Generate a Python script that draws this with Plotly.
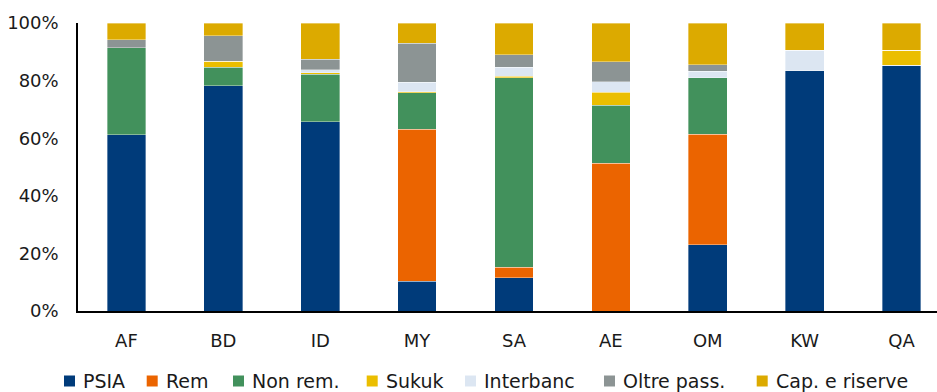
import plotly.graph_objects as go

categories = ["AF", "BD", "ID", "MY", "SA", "AE", "OM", "KW", "QA"]

psia       = [61.2, 78.2, 65.7, 10.4, 11.6,  0.0, 23.0, 83.4, 85.4]
rem        = [ 0.0,  0.0,  0.0, 52.7,  3.6, 51.3, 38.3,  0.0,  0.0]
non_rem    = [30.2,  6.4, 16.5, 12.7, 65.8, 20.2, 19.7,  0.0,  0.0]
sukuk      = [ 0.0,  2.2,  0.6,  0.4,  0.5,  4.5,  0.0,  0.0,  5.2]
interbanc  = [ 0.0,  0.0,  0.9,  3.2,  3.2,  3.6,  2.3,  7.2,  0.0]
oltre_pass = [ 2.8,  8.8,  3.7, 13.5,  4.2,  7.0,  2.2,  0.0,  0.0]
cap_ris    = [ 5.8,  4.4, 12.6,  7.1, 11.1, 13.4, 14.5,  9.4,  9.4]

series_names = ["PSIA", "Rem", "Non rem.", "Sukuk", "Interbanc", "Oltre pass.", "Cap. e riserve"]
series_values = [psia, rem, non_rem, sukuk, interbanc, oltre_pass, cap_ris]
series_colors = ["#003B7A", "#EB6400", "#42915C", "#EBBE00", "#DCE6F2", "#8C9494", "#DCAA00"]

y_tickvals = [0, 20, 40, 60, 80, 100]
y_ticktext = ["0%", "20%", "40%", "60%", "80%", "100%"]

FONT = "DejaVu Sans"
W, H = 937, 392
ML, MR, MT, MB = 78, 0, 23, 81
PW = W - ML - MR
PH = H - MT - MB

fig = go.Figure()
for name, vals, col in zip(series_names, series_values, series_colors):
    fig.add_trace(go.Bar(
        x=categories, y=vals, name=name,
        marker=dict(color=col, line=dict(color="rgba(255,255,255,0.45)", width=0.8)),
        width=0.40, showlegend=False,
    ))

# custom legend (compact spacing like the original)
legend_px = [64, 146.7, 233, 366.7, 465, 604, 756.7]
legend_y_px = 381
shapes = []
annotations = []
for name, col, px in zip(series_names, series_colors, legend_px):
    x0 = (px - ML) / PW
    x1 = (px + 11 - ML) / PW
    yc = (MT + PH - legend_y_px) / PH
    h = 5.5 / PH
    shapes.append(dict(type="rect", xref="paper", yref="paper",
                       x0=x0, x1=x1, y0=yc - h, y1=yc + h,
                       fillcolor=col, line=dict(width=0)))
    annotations.append(dict(xref="paper", yref="paper", x=(px + 17 - ML) / PW, y=yc,
                            xanchor="left", yanchor="middle", showarrow=False,
                            text=name, font=dict(family=FONT, size=19, color="#1a1a1a")))

fig.update_layout(
    barmode="stack",
    width=W, height=H,
    margin=dict(l=ML, r=MR, t=MT, b=MB, pad=0),
    paper_bgcolor="white", plot_bgcolor="white",
    font=dict(family=FONT, size=18, color="#1a1a1a"),
    shapes=shapes, annotations=annotations,
    xaxis=dict(
        range=[-0.5, 8.366], showgrid=False, zeroline=False,
        showline=True, linecolor="black", linewidth=2,
        ticks="", ticklabelstandoff=12,
        tickfont=dict(family=FONT, size=18, color="#1a1a1a"),
    ),
    yaxis=dict(
        range=[0, 100], showgrid=False, zeroline=False,
        showline=True, linecolor="black", linewidth=1.5,
        tickvals=y_tickvals, ticktext=y_ticktext, ticks="",
        ticklabelstandoff=14,
        tickfont=dict(family=FONT, size=18, color="#1a1a1a"),
    ),
)

fig.write_html("out.html")
